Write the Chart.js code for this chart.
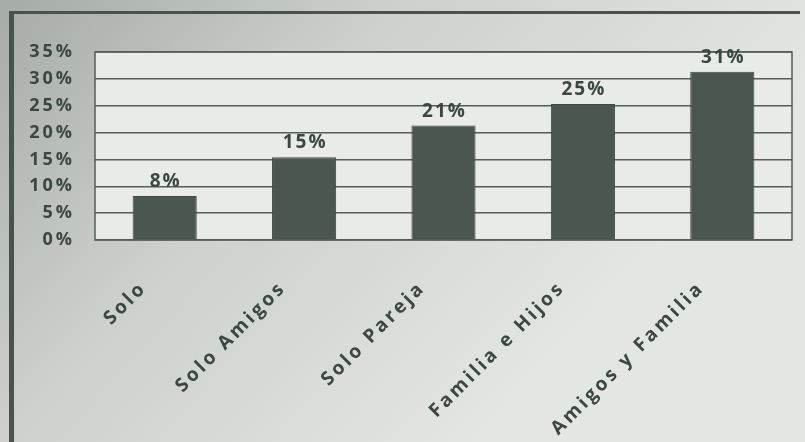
<!DOCTYPE html>
<html>
<head>
<meta charset="utf-8">
<script src="https://cdn.jsdelivr.net/npm/chart.js@4/dist/chart.umd.min.js"></script>
<style>
  html, body { margin: 0; padding: 0; background: #fff; }
  #wrap { width: 805px; height: 442px; }
</style>
</head>
<body>
<div id="wrap"><canvas id="chart" width="805" height="442"></canvas></div>
<script>
// data
const categories = ['Solo', 'Solo Amigos', 'Solo Pareja', 'Familia e Hijos', 'Amigos y Familia']
const values = [8.2, 15.4, 21.3, 25.3, 31.3]
const tickValues = [0, 5, 10, 15, 20, 25, 30, 35]

const ink = '#3b4741'
const barColor = '#4c5651'

// grey scanned-looking backdrop, frame, plot area and the texts
const backdrop = {
    id: 'backdrop',
    beforeDraw(chart) {
        const c = chart.ctx
        const a = chart.chartArea
        const w = chart.width, h = chart.height
        c.save()
        const g = c.createLinearGradient(0, 0, w * 0.6, h)
        g.addColorStop(0, '#a7aba8')
        g.addColorStop(0.45, '#cdd0cd')
        g.addColorStop(1, '#e4e6e4')
        c.fillStyle = g
        c.fillRect(0, 0, w, h)
        // frame lines top and left
        c.fillStyle = '#4a524d'
        c.fillRect(9, 11, w - 14, 3)
        c.fillRect(9, 11, 5, h - 11)
        // plot area
        c.fillStyle = '#e9ebe9'
        c.fillRect(a.left, a.top, a.right - a.left, a.bottom - a.top)
        c.restore()
        // spaced letters for the y tick labels
        c.letterSpacing = '3px'
    },
    afterDatasetsDraw(chart) {
        const c = chart.ctx
        const a = chart.chartArea
        c.save()
        c.strokeStyle = '#555d58'
        c.lineWidth = 1.5
        c.strokeRect(a.left, a.top, a.right - a.left, a.bottom - a.top)
        // value labels
        const meta = chart.getDatasetMeta(0)
        c.fillStyle = ink
        c.letterSpacing = '2px'
        c.font = 'bold 19px "Open Sans", sans-serif'
        c.textAlign = 'center'
        c.textBaseline = 'alphabetic'
        meta.data.forEach((bar, i) => {
            c.fillText(Math.round(values[i]) + '%', bar.x + 1, bar.y - 9)
        })
        // rotated category labels
        const xs = chart.scales.x
        c.font = 'bold 19px "Open Sans", sans-serif'
        c.letterSpacing = '3px'
        c.textAlign = 'right'
        c.textBaseline = 'middle'
        categories.forEach((lab, i) => {
            const px = xs.getPixelForTick(i)
            c.save()
            c.translate(px - 21, a.bottom + 45)
            c.rotate(-Math.PI / 4)
            c.fillText(lab, 0, 0)
            c.restore()
        })
        c.restore()
    }
}

const ctx = document.getElementById('chart').getContext('2d')
const myChart = new Chart(ctx, {
    type: 'bar',
    data: {
        labels: categories,
        datasets: [{
            data: values,
            backgroundColor: barColor,
            borderColor: '#3f4843',
            borderWidth: 1,
            barPercentage: 0.46,
            categoryPercentage: 1
        }]
    },
    options: {
        responsive: false,
        animation: false,
        layout: { padding: { top: 52, right: 13, left: 0, bottom: 0 } },
        plugins: {
            legend: { display: false },
            tooltip: { enabled: false }
        },
        scales: {
            x: {
                grid: { display: false },
                border: { display: false },
                ticks: { display: false },
                afterFit(scale) { scale.height = 202 }
            },
            y: {
                min: 0,
                max: 35,
                afterBuildTicks(scale) {
                    scale.ticks = tickValues.map(v => ({ value: v }))
                },
                grid: { color: '#555d58', lineWidth: 1.5, drawTicks: false },
                border: { display: false },
                ticks: {
                    color: ink,
                    font: { family: 'Open Sans', size: 18, weight: 'bold' },
                    padding: 20,
                    callback: v => v + '%'
                },
                afterFit(scale) { scale.width = 95 }
            }
        }
    },
    plugins: [backdrop]
})
</script>
</body>
</html>
